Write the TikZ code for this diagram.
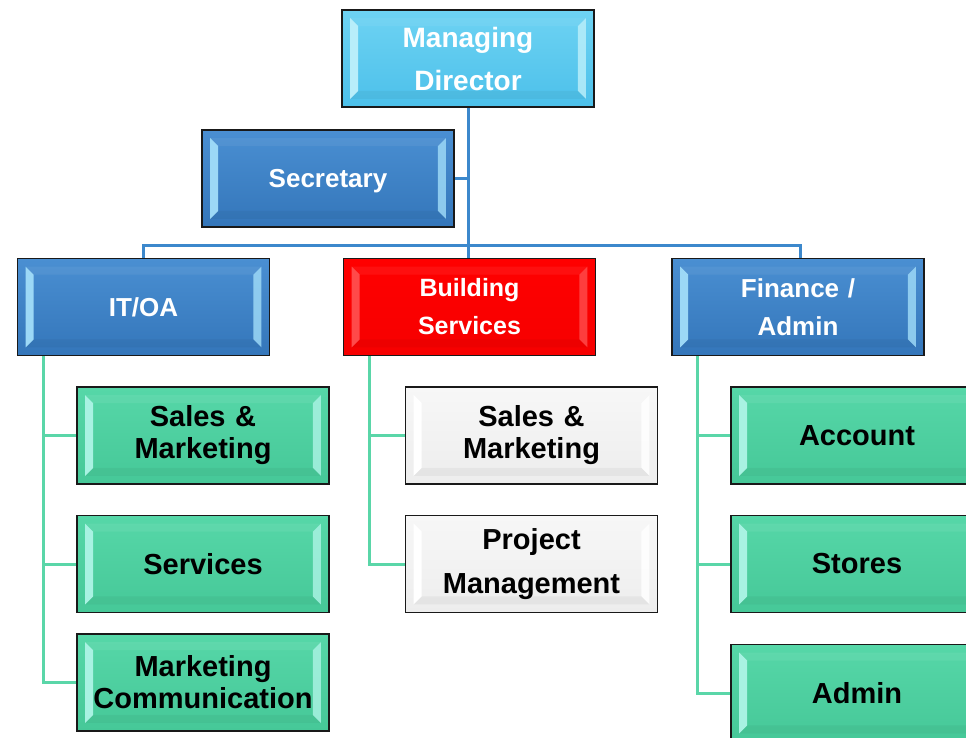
\documentclass[tikz,border=0pt]{standalone}
\usepackage{fontspec}
\setmainfont{Liberation Sans}
\definecolor{mdtop}{HTML}{6ED3F3}
\definecolor{mdbot}{HTML}{4CC0EA}
\definecolor{mdlight}{HTML}{B8EEFA}
\definecolor{bltop}{HTML}{4A8FD2}
\definecolor{blbot}{HTML}{3476BA}
\definecolor{bllight}{HTML}{9CD8F6}
\definecolor{rdtop}{HTML}{FF0000}
\definecolor{rdbot}{HTML}{F60000}
\definecolor{rdlight}{HTML}{FF4A4A}
\definecolor{grtop}{HTML}{56D7A8}
\definecolor{grbot}{HTML}{46C898}
\definecolor{grlight}{HTML}{A8F2E2}
\definecolor{gytop}{HTML}{F7F7F7}
\definecolor{gybot}{HTML}{EDEDED}
\definecolor{gylight}{HTML}{FFFFFF}
\definecolor{blueline}{HTML}{3C88CC}
\definecolor{greenline}{HTML}{5AD6A8}
\newcommand\mybevel[2]{%
  \fill[#2] ([shift={(9,9)}]#1.north west) -- ([shift={(17,17)}]#1.north west) -- ([shift={(17,-17)}]#1.south west) -- ([shift={(9,-9)}]#1.south west) -- cycle;
  \fill[#2,opacity=.85] ([shift={(-9,9)}]#1.north east) -- ([shift={(-17,17)}]#1.north east) -- ([shift={(-17,-17)}]#1.south east) -- ([shift={(-9,-9)}]#1.south east) -- cycle;
  \fill[white,opacity=.06] ([shift={(9,9)}]#1.north west) -- ([shift={(-9,9)}]#1.north east) -- ([shift={(-17,17)}]#1.north east) -- ([shift={(17,17)}]#1.north west) -- cycle;
  \fill[black,opacity=.04] ([shift={(9,-9)}]#1.south west) -- ([shift={(-9,-9)}]#1.south east) -- ([shift={(-17,-17)}]#1.south east) -- ([shift={(17,-17)}]#1.south west) -- cycle;
}
\tikzset{
  box/.style={draw=black!90, line width=1.8pt, rectangle, minimum width=252, minimum height=97, inner sep=0pt, align=center, text width=230, font=\bfseries},
  mdbox/.style={box, top color=mdtop, bottom color=mdbot, text=white, font=\bfseries\fontsize{28}{43}\selectfont},
  bluebox/.style={box, top color=bltop, bottom color=blbot, text=white, font=\bfseries\fontsize{26}{38}\selectfont},
  redbox/.style={box, top color=rdtop, bottom color=rdbot, text=white, font=\bfseries\fontsize{25}{38}\selectfont},
  greenbox/.style={box, top color=grtop, bottom color=grbot, text=black, font=\bfseries\fontsize{29}{32}\selectfont},
  greybox/.style={box, top color=gytop, bottom color=gybot, text=black, font=\bfseries\fontsize{29}{32}\selectfont},
  bconn/.style={draw=blueline, line width=3pt},
  gconn/.style={draw=greenline, line width=3pt},
}
\begin{document}
\begin{tikzpicture}[x=1pt,y=-1pt]
\useasboundingbox (0,0) rectangle (966,738);
\clip (0,0) rectangle (966,738);
\fill[white] (0,0) rectangle (966,738);
% nodes
\node[mdbox] (md) at (468,58.5) {Managing\\Director};
\node[bluebox, text depth=0pt] (sec) at (328,178.5) {Secretary};
\node[bluebox] (it) at (143.5,307) {IT/OA};
\node[redbox] (bs) at (469.5,307) {Building\\Services};
\node[bluebox] (fin) at (798,307) {Finance /\\Admin};
\node[greenbox] (g1) at (203,435.5) {Sales \&\\Marketing};
\node[greenbox] (g2) at (203,564) {Services};
\node[greenbox] (g3) at (203,682.5) {Marketing\\Communication};
\node[greybox] (y1) at (531.5,435.5) {Sales \&\\Marketing};
\node[greybox, font=\bfseries\fontsize{29}{44}\selectfont] (y2) at (531.5,564) {Project\\Management};
\node[greenbox] (h1) at (857,435.5) {Account};
\node[greenbox] (h2) at (857,564) {Stores};
\node[greenbox] (h3) at (857,693) {Admin};
% bevels
\mybevel{md}{mdlight}
\mybevel{sec}{bllight}
\mybevel{it}{bllight}
\mybevel{bs}{rdlight}
\mybevel{fin}{bllight}
\mybevel{g1}{grlight}
\mybevel{g2}{grlight}
\mybevel{g3}{grlight}
\mybevel{y1}{gylight}
\mybevel{y2}{gylight}
\mybevel{h1}{grlight}
\mybevel{h2}{grlight}
\mybevel{h3}{grlight}
% connectors
\coordinate (bar) at (468,245);
\path[bconn] (md.south) -- (md.south |- bar) -| (it.north);
\path[bconn] (md.south |- bar) -| ([xshift=2pt]fin.north);
\path[bconn] (md.south |- bar) -- (md.south |- bs.north);
\path[bconn] (sec.east) -- (sec.east -| md.south);
\path[gconn] ([xshift=27pt]it.south west) |- (g3.west);
\path[gconn] ([xshift=27pt]it.south west) |- (g1.west);
\path[gconn] ([xshift=27pt]it.south west) |- (g2.west);
\path[gconn] ([xshift=27pt]bs.south west) |- (y2.west);
\path[gconn] ([xshift=27pt]bs.south west) |- (y1.west);
\path[gconn] ([xshift=26pt]fin.south west) |- (h3.west);
\path[gconn] ([xshift=26pt]fin.south west) |- (h1.west);
\path[gconn] ([xshift=26pt]fin.south west) |- (h2.west);
\end{tikzpicture}
\end{document}
